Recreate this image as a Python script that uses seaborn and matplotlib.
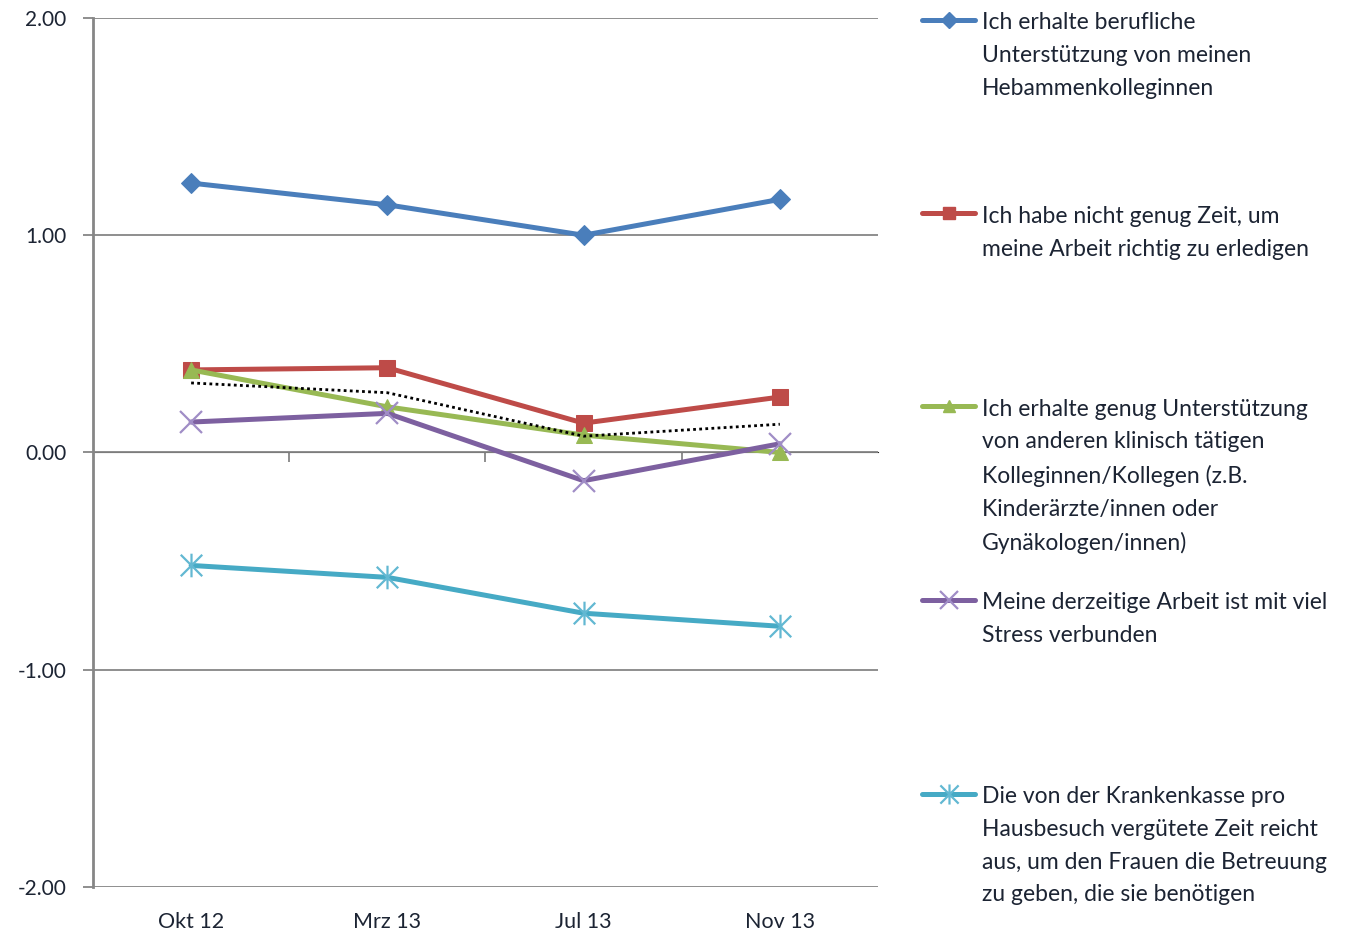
import numpy as np
import pandas as pd
import seaborn as sns
import matplotlib.pyplot as plt
from matplotlib.path import Path
from matplotlib.lines import Line2D

# Daten
zeitpunkte = ["Okt 12", "Mrz 13", "Jul 13", "Nov 13"]
kollegen_unterstuetzung = [1.24, 1.14, 1.00, 1.165]
nicht_genug_zeit = [0.38, 0.39, 0.135, 0.255]
klinische_unterstuetzung = [0.38, 0.21, 0.08, 0.0]
viel_stress = [0.14, 0.18, -0.13, 0.04]
krankenkasse_zeit = [-0.52, -0.575, -0.74, -0.80]
trend_punktiert = [0.32, 0.275, 0.075, 0.13]

labels = [
    "Ich erhalte berufliche\nUnterstützung von meinen\nHebammenkolleginnen",
    "Ich habe nicht genug Zeit, um\nmeine Arbeit richtig zu erledigen",
    "Ich erhalte genug Unterstützung\nvon anderen klinisch tätigen\nKolleginnen/Kollegen (z.B.\nKinderärzte/innen oder\nGynäkologen/innen)",
    "Meine derzeitige Arbeit ist mit viel\nStress verbunden",
    "Die von der Krankenkasse pro\nHausbesuch vergütete Zeit reicht\naus, um den Frauen die Betreuung\nzu geben, die sie benötigen",
]

# Excel-Sternmarker (x mit senkrechtem Strich)
stern = Path([(-1, -1), (1, 1), (-1, 1), (1, -1), (0, -1.1), (0, 1.1)],
             [Path.MOVETO, Path.LINETO, Path.MOVETO, Path.LINETO, Path.MOVETO, Path.LINETO])

serien = [
    (kollegen_unterstuetzung, "#4A7EBB", "D", 10, None),
    (nicht_genug_zeit, "#BE4B48", "s", 11, None),
    (klinische_unterstuetzung, "#98B954", "^", 11, None),
    (viel_stress, "#7D60A0", "x", 16, "#A08DC6"),
    (krankenkasse_zeit, "#46AAC5", stern, 17, "#62B8D2"),
]

textfarbe = "#1c2433"

sns.set_style("white")
plt.rcParams["font.family"] = ["Lato", "DejaVu Sans"]

fig = plt.figure(figsize=(13.58, 9.36), dpi=100)
ax = fig.add_axes([0.0685, 0.0524, 0.578, 0.9284])

pos = np.arange(len(zeitpunkte))
for werte, farbe, marker, ms, kante in serien:
    kw = dict(marker=marker, markersize=ms, markerfacecolor=farbe,
              markeredgecolor=kante if kante else farbe)
    if kante:
        kw["markeredgewidth"] = 1.6
    sns.lineplot(x=pos, y=werte, ax=ax, color=farbe, lw=3.6, zorder=3, **kw)

sns.lineplot(x=pos, y=trend_punktiert, ax=ax, color="black", lw=2, ls=(0, (1, 1.2)), zorder=4)

ax.set_xlim(-0.5, 3.5)
ax.set_ylim(-2, 2)
ax.set_yticks([-2, -1, 0, 1, 2])
ax.set_yticklabels([f"{v:.2f}" for v in [-2, -1, 0, 1, 2]], fontsize=15, color=textfarbe)
ax.set_xticks(pos)
ax.set_xticklabels(zeitpunkte, fontsize=15.5, color=textfarbe)
ax.tick_params(axis="x", length=0, pad=18)
ax.tick_params(axis="y", direction="out", length=7, width=1.3, color="#868686", pad=12, left=True)
ax.grid(axis="y", color="#868686", lw=1.3)
ax.grid(axis="x", visible=False)
for s in ["top", "right", "bottom"]:
    ax.spines[s].set_visible(False)
ax.spines["left"].set_color("#868686")
ax.spines["left"].set_linewidth(2)

# Achse bei 0 mit Teilstrichen zwischen den Kategorien
sek = ax.secondary_xaxis(0.5)
sek.set_xticks([0.5, 1.5, 2.5])
sek.set_xticklabels([])
sek.tick_params(direction="in", length=7, width=1.3, color="#868686")
sek.spines["bottom"].set_color("#868686")
sek.spines["bottom"].set_linewidth(1.3)

# Legende rechts
legende_y = [0.979, 0.772, 0.566, 0.359, 0.152]
for (werte, farbe, marker, ms, kante), text, y in zip(serien, labels, legende_y):
    h = Line2D([0.679, 0.6985, 0.718], [y, y, y], transform=fig.transFigure, color=farbe, lw=3.6,
               marker=marker, markevery=[1], markersize=ms * 0.85, markerfacecolor=farbe,
               markeredgecolor=kante if kante else farbe, markeredgewidth=1.6 if kante else 1)
    fig.add_artist(h)
    fig.text(0.723, y + 0.008, text, fontsize=16.5, color=textfarbe,
             va="top", ha="left", linespacing=1.69)

fig.savefig("out.png", dpi=100)
